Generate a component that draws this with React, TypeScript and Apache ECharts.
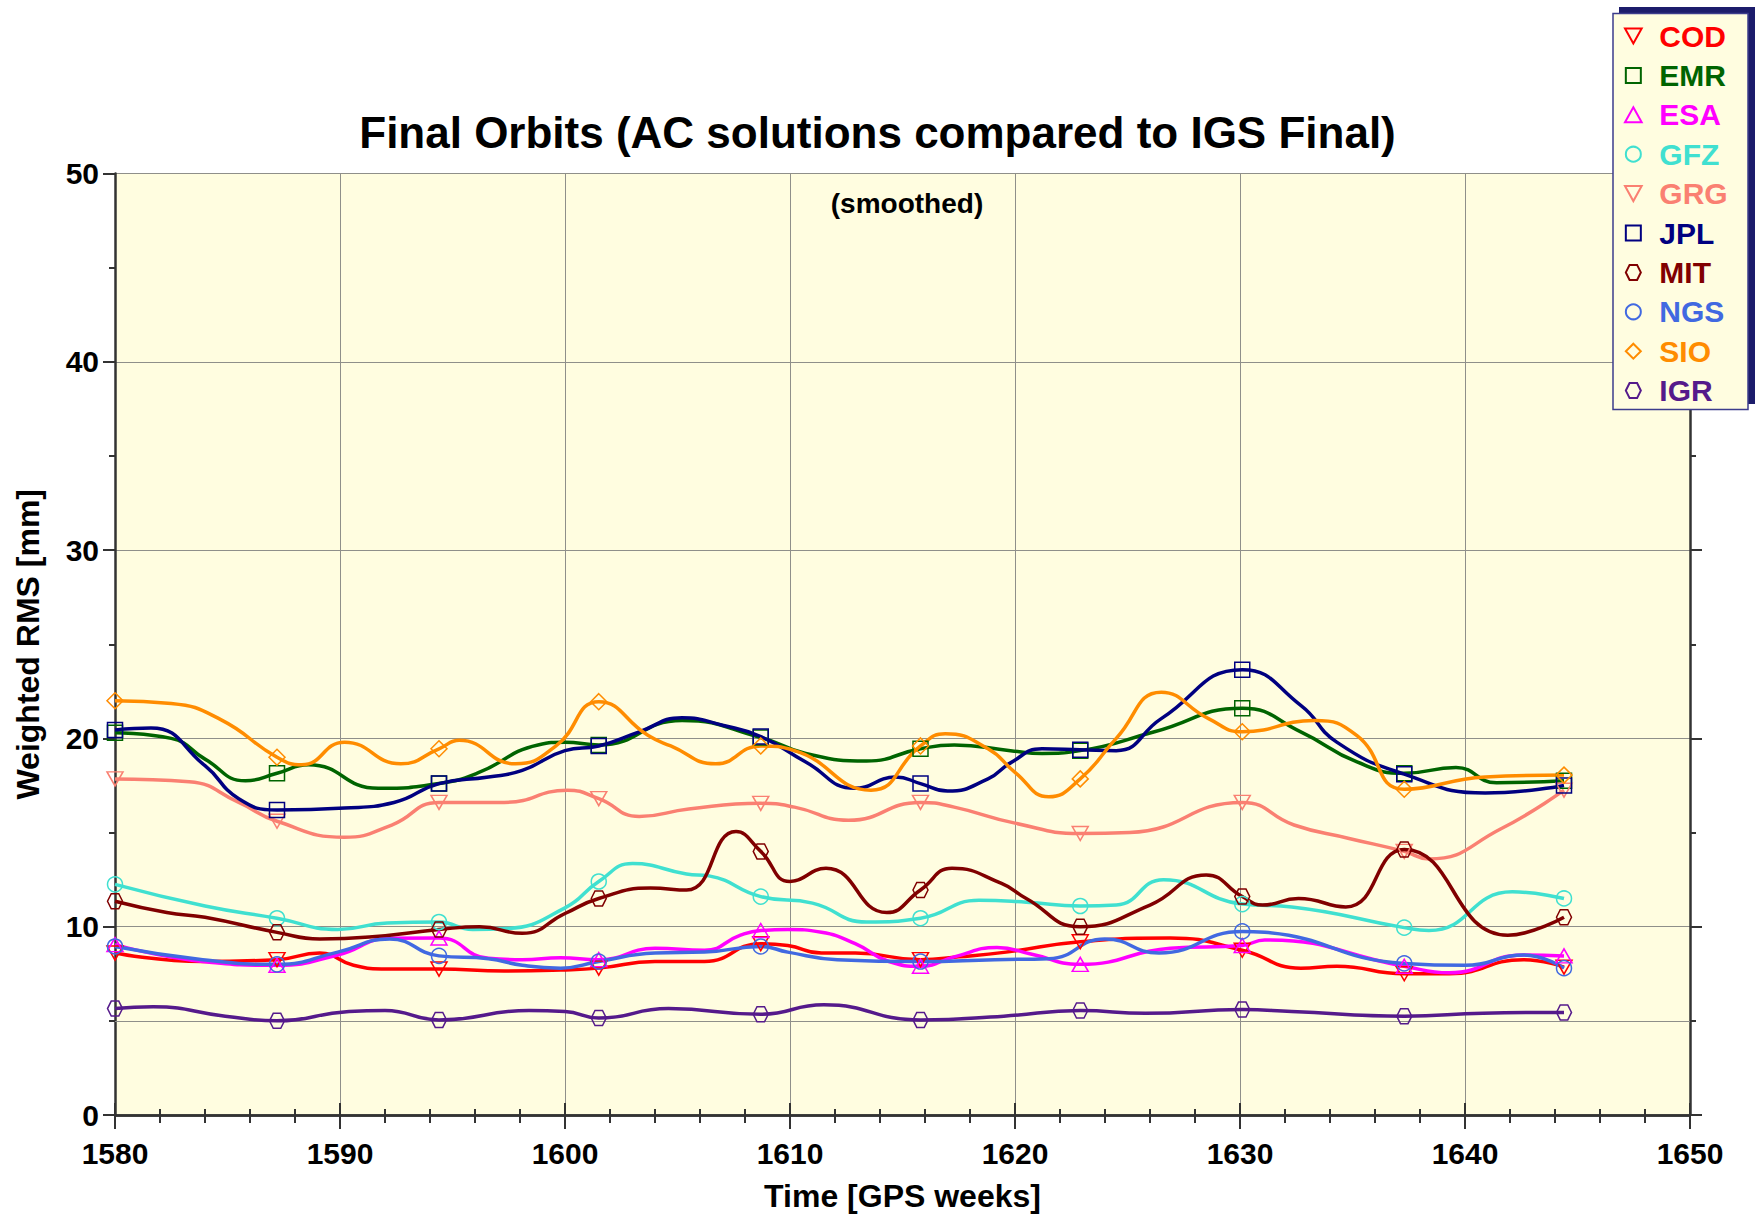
import React, { useEffect, useRef } from "react";
import * as echarts from "echarts";

const FONT = '"Liberation Sans", Arial, Helvetica, sans-serif';

const TITLE = "Final Orbits (AC solutions compared to IGS Final)";
const SUBTITLE = "(smoothed)";
const X_NAME = "Time [GPS weeks]";
const Y_NAME = "Weighted RMS [mm]";

const xMin = 1580;
const xMax = 1650;
const xStep = 10;
const yMin = 0;
const yMax = 50;
const yStep = 10;

// weeks at which markers are drawn
const markerWeeks = [1580, 1587.2, 1594.4, 1601.5, 1608.7, 1615.8, 1622.9, 1630.1, 1637.3, 1644.4];

const seriesNames = ["COD", "EMR", "ESA", "GFZ", "GRG", "JPL", "MIT", "NGS", "SIO", "IGR"];
const seriesColors = ["#ff0000", "#006400", "#ff00ff", "#40e0d0", "#fa8072", "#000080", "#800000", "#4169e1", "#ff8c00", "#551a8b"];

const TRI_DOWN = "path://M0,0L10,0L5,9Z";
const TRI_UP = "path://M5,0L10,9L0,9Z";
const SQUARE = "path://M0,0L10,0L10,10L0,10Z";
const DIAMOND = "path://M5,0L10,5L5,10L0,5Z";
const HEX = "path://M2.5,0L7.5,0L10,5L7.5,10L2.5,10L0,5Z";
const seriesSymbols = [TRI_DOWN, SQUARE, TRI_UP, "circle", TRI_DOWN, SQUARE, HEX, "circle", DIAMOND, HEX];

const COD = [
  [1580, 8.6], [1583.9, 8.15], [1587.2, 8.25], [1589.1, 8.6], [1590.6, 7.95], [1592.1, 7.75], [1594.4, 7.75],
  [1597.3, 7.65], [1599.8, 7.7], [1601.5, 7.8], [1604, 8.15], [1606.2, 8.15], [1608.7, 9.1], [1609.9, 9.0],
  [1611.4, 8.6], [1612.9, 8.6], [1615.8, 8.25], [1617.5, 8.4], [1619.6, 8.65], [1622.9, 9.2], [1626.9, 9.4],
  [1630.1, 8.75], [1632.7, 7.8], [1634.3, 7.9], [1637.3, 7.5], [1639.3, 7.5], [1642.6, 8.25], [1644.4, 7.85],
];
const EMR = [
  [1580, 20.3], [1582.5, 20.0], [1584, 18.9], [1585.8, 17.75], [1587.2, 18.15], [1588.6, 18.6], [1591.7, 17.35],
  [1594.4, 17.6], [1596.1, 18.15], [1598.8, 19.65], [1600, 19.8], [1601.5, 19.65], [1605.2, 20.95], [1608.7, 20.05],
  [1610.7, 19.2], [1613.4, 18.8], [1615.8, 19.45], [1617.3, 19.65], [1619.8, 19.35], [1621.2, 19.2], [1622.9, 19.35],
  [1626.2, 20.35], [1630.1, 21.6], [1632.7, 20.35], [1635.2, 18.75], [1637.3, 18.15], [1639.6, 18.45],
  [1641.4, 17.65], [1644.4, 17.75],
];
const ESA = [
  [1580, 9.05], [1583.9, 8.15], [1587.2, 7.95], [1589.9, 8.5], [1592.2, 9.38], [1594.4, 9.4], [1596.6, 8.32],
  [1598.1, 8.25], [1599.8, 8.35], [1601.5, 8.25], [1604, 8.85], [1606.2, 8.75], [1607.8, 9.55], [1608.7, 9.8],
  [1609.9, 9.85], [1611.4, 9.7], [1612.9, 9.1], [1614.4, 8.15], [1615.8, 7.9], [1617.3, 8.4], [1619.2, 8.9],
  [1620.7, 8.55], [1622.9, 8.0], [1626.9, 8.85], [1630.1, 9.0], [1631.1, 9.3], [1637.3, 7.9], [1639.3, 7.55],
  [1642.6, 8.5], [1644.4, 8.45],
];
const GFZ = [
  [1580, 12.25], [1584, 11.1], [1587.2, 10.45], [1589.9, 9.85], [1592.1, 10.2], [1594.4, 10.25], [1595.9, 9.85],
  [1597.4, 9.9], [1600, 11.0], [1601.5, 12.4], [1603, 13.35], [1605.4, 12.8], [1606.4, 12.7], [1608.7, 11.6],
  [1611, 11.25], [1613.4, 10.25], [1615.8, 10.45], [1618.4, 11.4], [1620.5, 11.3], [1622.9, 11.1], [1624.5, 11.15],
  [1626.6, 12.5], [1630.1, 11.2], [1632.3, 11.05], [1637.3, 9.95], [1638.4, 9.8], [1642.1, 11.85], [1644.4, 11.5],
];
const GRG = [
  [1580, 17.85], [1583.3, 17.7], [1585.5, 16.6], [1587.2, 15.6], [1590.2, 14.75], [1592.3, 15.4], [1594.4, 16.6],
  [1597.3, 16.6], [1600.1, 17.25], [1601.5, 16.8], [1603.3, 15.85], [1605.5, 16.25], [1608.7, 16.55],
  [1610.2, 16.35], [1612.6, 15.65], [1615.8, 16.6], [1617.3, 16.35], [1620, 15.5], [1622.9, 14.95], [1625.1, 15.0],
  [1630.1, 16.6], [1632.4, 15.4], [1634.8, 14.7], [1637.3, 14.0], [1638.4, 13.6], [1641.6, 15.2], [1644.4, 17.25],
];
const JPL = [
  [1580, 20.45], [1581.6, 20.55], [1584, 18.55], [1585.5, 16.8], [1587.2, 16.2], [1590.2, 16.3], [1592.4, 16.6],
  [1594.4, 17.6], [1596.6, 17.95], [1598.1, 18.3], [1600, 19.35], [1601.5, 19.6], [1603.3, 20.35], [1605.2, 21.1],
  [1607, 20.7], [1608.7, 20.1], [1610.7, 18.75], [1612.9, 17.35], [1614.7, 17.95], [1615.8, 17.6], [1617, 17.2],
  [1618.8, 17.85], [1619.8, 18.7], [1621.2, 19.45], [1622.9, 19.4], [1624.5, 19.35], [1626.5, 21.05],
  [1630.1, 23.65], [1632.7, 21.75], [1634.3, 19.8], [1637.3, 18.1], [1640.9, 17.1], [1644.4, 17.5],
];
const MIT = [
  [1580, 11.35], [1582.3, 10.75], [1584, 10.5], [1587.2, 9.7], [1589.1, 9.35], [1591.3, 9.45], [1594.4, 9.85],
  [1596.2, 10.0], [1598.1, 9.65], [1600, 10.7], [1601.5, 11.5], [1603.8, 12.05], [1605.4, 11.95], [1607.6, 15.05],
  [1608.7, 14.0], [1610, 12.4], [1611.6, 13.1], [1614.3, 10.75], [1615.8, 11.95], [1617.2, 13.1], [1619.4, 12.3],
  [1620.5, 11.5], [1622.9, 10.0], [1626, 11.15], [1628.5, 12.75], [1630.1, 11.6], [1631, 11.15], [1632.6, 11.5],
  [1634.7, 11.05], [1637.3, 14.1], [1641.9, 9.55], [1644.4, 10.5],
];
const NGS = [
  [1580, 8.95], [1583.9, 8.25], [1587.2, 8.0], [1589.9, 8.65], [1592.2, 9.35], [1594.4, 8.45], [1596.6, 8.3],
  [1598.1, 7.95], [1599.8, 7.8], [1601.5, 8.15], [1604, 8.6], [1606.2, 8.65], [1608.7, 8.95], [1609.9, 8.65],
  [1612.1, 8.25], [1615.8, 8.15], [1619.1, 8.25], [1621.5, 8.3], [1624, 9.35], [1626.4, 8.6], [1630.1, 9.75],
  [1631.1, 9.7], [1637.3, 8.05], [1640, 7.95], [1642.6, 8.5], [1644.4, 7.8],
];
const SIO = [
  [1580, 22.0], [1582.5, 21.85], [1584.7, 21.0], [1587.2, 19.0], [1588.3, 18.6], [1590.2, 19.8], [1592.7, 18.65],
  [1594.4, 19.45], [1595.3, 19.9], [1597.8, 18.65], [1599.6, 19.6], [1601.5, 21.95], [1603.7, 20.15],
  [1604.7, 19.6], [1606.7, 18.65], [1608.7, 19.6], [1610.2, 19.35], [1613.6, 17.25], [1615.8, 19.6],
  [1616.9, 20.25], [1618.8, 19.45], [1620, 18.2], [1621.5, 16.9], [1622.9, 17.85], [1624.5, 20.0], [1626.5, 22.45],
  [1628.6, 21.05], [1630.1, 20.35], [1633.3, 20.95], [1635.2, 20.15], [1637.3, 17.3], [1640.9, 17.95],
  [1644.4, 18.05],
];
const IGR = [
  [1580, 5.65], [1581.7, 5.75], [1584.9, 5.25], [1587.2, 5.0], [1590.4, 5.5], [1592, 5.55], [1594.4, 5.05],
  [1598.4, 5.55], [1600, 5.5], [1601.5, 5.15], [1604.6, 5.65], [1608.7, 5.35], [1611.5, 5.85], [1615.8, 5.05],
  [1619.5, 5.25], [1622.9, 5.55], [1625.8, 5.4], [1630.1, 5.6], [1632.3, 5.5], [1637.3, 5.25], [1640.8, 5.4],
  [1644.4, 5.45],
];
const seriesData = [COD, EMR, ESA, GFZ, GRG, JPL, MIT, NGS, SIO, IGR];

const PLOT_BG = "#fffde0";
const AXIS_COLOR = "#333333";
const GRID_COLOR = "#8f8f8a";

function App() {
  const ref = useRef<HTMLDivElement>(null);

  useEffect(() => {
    if (!ref.current) return;
    const chart = echarts.init(ref.current, undefined, { renderer: "svg" });

    const series: any[] = seriesNames.map((name, i) => {
      const sym = seriesSymbols[i];
      const color = seriesColors[i];
      const s: any = {
        name,
        type: "line",
        smooth: 0.5,
        xAxisIndex: 0,
        yAxisIndex: 0,
        color,
        symbolSize: sym === TRI_DOWN || sym === TRI_UP ? [16, 14] : sym === DIAMOND ? 16 : 15,
        showSymbol: true,
        lineStyle: { color, width: 3.5 },
        itemStyle: { color: "rgba(0,0,0,0)", borderColor: color, borderWidth: 1.5 },
        emphasis: { disabled: true },
        data: seriesData[i].map(([x, y]) => ({
          value: [x, y],
          symbol: markerWeeks.includes(x) ? sym : "none",
        })),
      };
      if (i === 0) {
        s.markLine = {
          silent: true,
          z: 1,
          symbol: ["none", "none"],
          label: { show: false },
          lineStyle: { color: GRID_COLOR, width: 1, type: "solid" },
          data: [{ yAxis: 5 }],
        };
      }
      return s;
    });

    const axisLine = { show: true, lineStyle: { color: AXIS_COLOR, width: 2.5 } };
    const tickStyle = { color: AXIS_COLOR, width: 2 };
    const labelStyle = { fontFamily: FONT, fontWeight: "bold", fontSize: 30, color: "#000" };
    const plainNum = (v: number) => String(v);

    const option: any = {
      animation: false,
      backgroundColor: "#ffffff",
      title: {
        text: TITLE,
        left: "center",
        top: 110,
        padding: 0,
        textStyle: { fontFamily: FONT, fontWeight: "bold", fontSize: 44, color: "#000" },
      },
      legend: {
        orient: "vertical",
        left: 1624,
        top: 21,
        padding: 0,
        itemGap: 9.4,
        itemWidth: 42,
        itemHeight: 15,
        z: 200,
        textStyle: { fontFamily: FONT, fontWeight: "bold", fontSize: 30, lineHeight: 28 },
        data: seriesNames.map((name, i) => ({
          name,
          icon: seriesSymbols[i],
          itemStyle: { color: "rgba(0,0,0,0)", borderColor: seriesColors[i], borderWidth: 2 },
          textStyle: { color: seriesColors[i] },
        })),
      },
      grid: {
        left: 115,
        right: 65,
        top: 173.5,
        bottom: 100,
        show: true,
        backgroundColor: PLOT_BG,
        borderWidth: 0,
      },
      xAxis: [
        {
          type: "value",
          position: "bottom",
          min: xMin,
          max: xMax,
          interval: xStep,
          name: X_NAME,
          nameLocation: "middle",
          nameGap: 65,
          nameTextStyle: { fontFamily: FONT, fontWeight: "bold", fontSize: 32, color: "#000" },
          axisLine,
          axisTick: { show: true, inside: false, length: 14, lineStyle: tickStyle },
          minorTick: { show: true, splitNumber: 5, length: 8, lineStyle: tickStyle },
          splitLine: { show: true, lineStyle: { color: GRID_COLOR, width: 1 } },
          axisLabel: { ...labelStyle, margin: 23, formatter: plainNum },
        },
        {
          type: "value",
          position: "top",
          min: xMin,
          max: xMax,
          interval: xStep,
          axisLine,
          axisTick: { show: true, inside: false, length: 12, lineStyle: tickStyle },
          minorTick: { show: true, splitNumber: 5, length: 6, lineStyle: tickStyle },
          splitLine: { show: false },
          axisLabel: { show: false },
        },
      ],
      yAxis: [
        {
          type: "value",
          position: "left",
          min: yMin,
          max: yMax,
          interval: yStep,
          name: Y_NAME,
          nameLocation: "middle",
          nameGap: 71,
          nameTextStyle: { fontFamily: FONT, fontWeight: "bold", fontSize: 32, color: "#000" },
          axisLine,
          axisTick: { show: true, inside: false, length: 12, lineStyle: tickStyle },
          minorTick: { show: true, splitNumber: 2, length: 6, lineStyle: tickStyle },
          splitLine: { show: true, lineStyle: { color: GRID_COLOR, width: 1 } },
          axisLabel: { ...labelStyle, margin: 16, formatter: plainNum },
        },
        {
          type: "value",
          position: "right",
          min: yMin,
          max: yMax,
          interval: yStep,
          axisLine,
          axisTick: { show: true, inside: false, length: 12, lineStyle: tickStyle },
          minorTick: { show: true, splitNumber: 2, length: 6, lineStyle: tickStyle },
          splitLine: { show: false },
          axisLabel: { show: false },
        },
      ],
      graphic: [
        {
          type: "rect",
          z: 100,
          shape: { x: 1619, y: 7, width: 140, height: 397 },
          style: { fill: "#1c1c6b" },
          silent: true,
        },
        {
          type: "rect",
          z: 101,
          shape: { x: 1613, y: 13.5, width: 135, height: 396 },
          style: { fill: PLOT_BG, stroke: "#3c3c8c", lineWidth: 1.5 },
          silent: true,
        },
        {
          type: "text",
          z: 50,
          x: 907,
          y: 203,
          style: {
            text: SUBTITLE,
            font: `bold 28px ${FONT}`,
            fill: "#000",
            align: "center",
            verticalAlign: "middle",
          },
          silent: true,
        },
      ],
      series,
    };

    chart.setOption(option);
    return () => {
      chart.dispose();
    };
  }, []);

  return (
    <div
      ref={ref}
      style={{ position: "absolute", left: 0, top: 0, width: 1755, height: 1217, background: "#fff" }}
    />
  );
}

export default App;
